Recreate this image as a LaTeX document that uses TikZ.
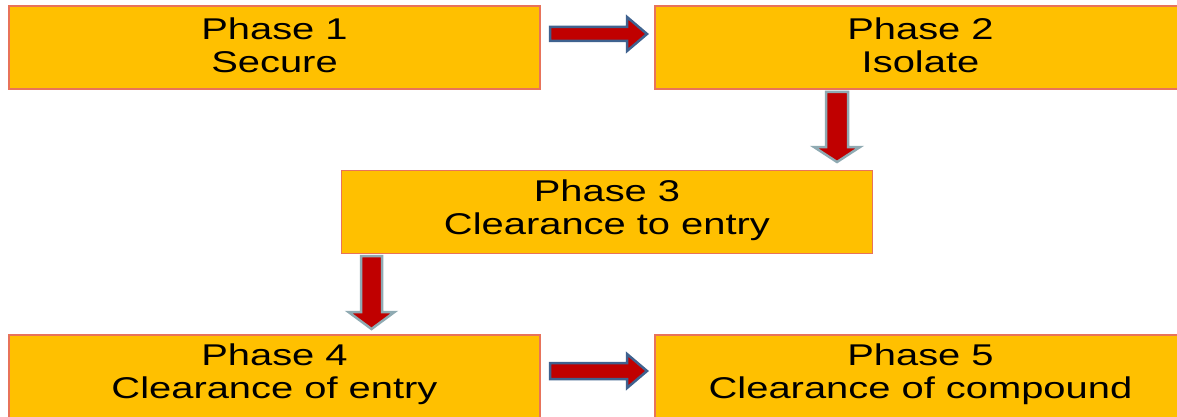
\documentclass[tikz,border=0pt]{standalone}
\usepackage{fontspec}
\setmainfont{Liberation Sans}[FakeStretch=1.33]
\usetikzlibrary{calc}
\definecolor{boxfill}{HTML}{FFC000}
\definecolor{boxline}{HTML}{E8735A}
\definecolor{arrred}{HTML}{C00000}
\definecolor{hline}{HTML}{3F628F}
\definecolor{vline}{HTML}{8FAAB2}
\newcommand{\blockarrow}[6]{%
  \draw[#6] let \p1=(#1), \p2=(#2),
     \n1={atan2(\y2-\y1,\x2-\x1)}, \n2={veclen(\x2-\x1,\y2-\y1)} in
   {[shift={(\p1)}, rotate=\n1]
    (0,-#3) -- (\n2-#5,-#3) -- (\n2-#5,-#4) -- (\n2,0) -- (\n2-#5,#4) -- (\n2-#5,#3) -- (0,#3) -- cycle};}
\begin{document}
\begin{tikzpicture}[x=1pt,y=-1pt,
  phase/.style={draw=boxline, line width=1.5pt, fill=boxfill, minimum width=531pt,
    minimum height=83pt, inner sep=0pt, align=center,
    font=\fontsize{30}{33}\selectfont},
  phasetext/.style={inner sep=0pt, align=center, font=\fontsize{30}{33}\selectfont},
  harrow/.style={draw=hline, fill=arrred, line width=2.5pt, line join=miter},
  varrow/.style={draw=vline, fill=arrred, line width=2.5pt, line join=miter}]
\useasboundingbox (0,0) rectangle (1177,417);
\clip (0,0) rectangle (1177,417);
\node[phase] (b1) at (274.5,47.5) {};
\node[phase] (b2) at (920.5,47.5) {};
\node[phase] (b3) at (607,212) {};
\node[phase] (b4) at (274.5,376.5) {};
\node[phase] (b5) at (920.5,376.5) {};
\node[phasetext] (t1) at ([yshift=2pt]b1.center) {Phase 1\\Secure};
\node[phasetext] (t2) at ([yshift=2pt]b2.center) {Phase 2\\Isolate};
\node[phasetext] (t3) at ([yshift=2pt]b3.center) {Phase 3\\Clearance to entry};
\node[phasetext] (t4) at ([yshift=2pt]b4.center) {Phase 4\\Clearance of entry};
\node[phasetext] (t5) at ([yshift=2pt]b5.center) {Phase 5\\Clearance of compound};
\coordinate (a1s) at (550,34);
\coordinate (a1e) at (647,34);
\coordinate (a2s) at (837,92);
\coordinate (a2e) at (837,162);
\coordinate (a3s) at (371.5,256);
\coordinate (a3e) at (371.5,329);
\coordinate (a4s) at (550,371);
\coordinate (a4e) at (647,371);
\blockarrow{a1s}{a1e}{7}{17}{20}{harrow}
\blockarrow{a2s}{a2e}{11}{23}{15}{varrow}
\blockarrow{a3s}{a3e}{10.5}{23}{17}{varrow}
\blockarrow{a4s}{a4e}{8}{17}{20}{harrow}
\end{tikzpicture}
\end{document}
